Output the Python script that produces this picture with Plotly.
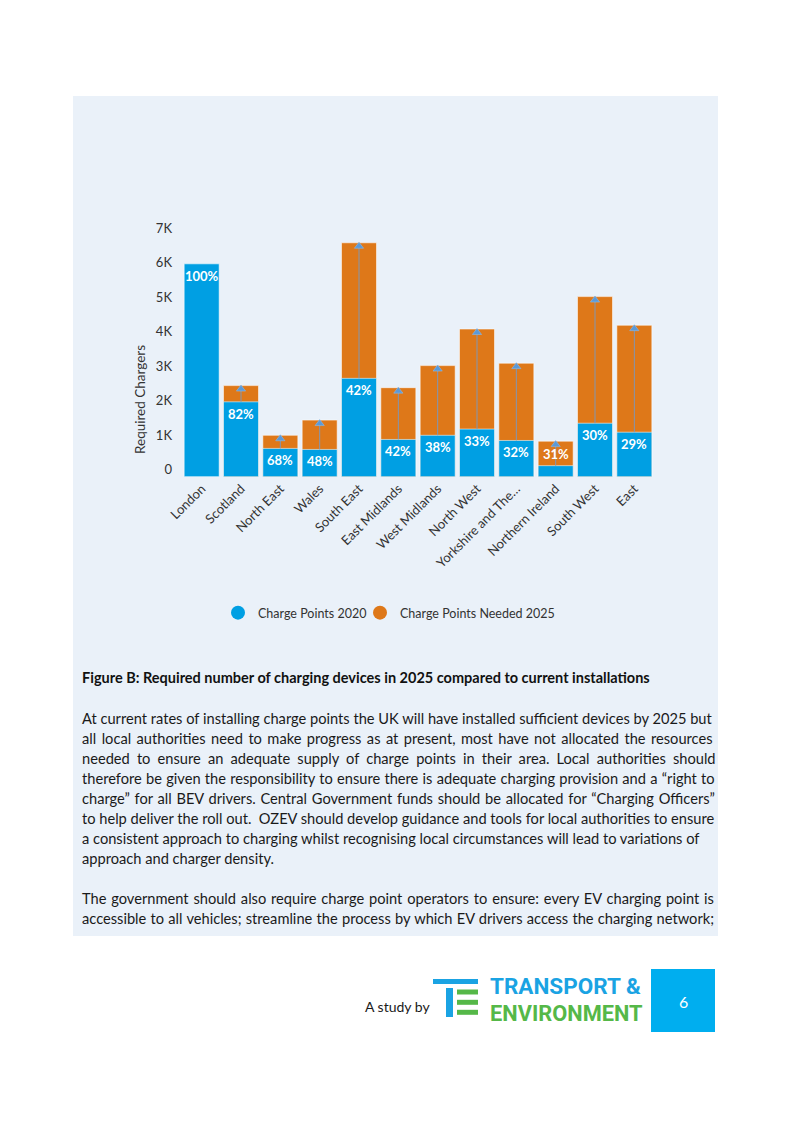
import plotly.graph_objects as go

# ---------------- data ----------------
regions = ["London", "Scotland", "North East", "Wales", "South East", "East Midlands",
           "West Midlands", "North West", "Yorkshire and The…", "Northern Ireland",
           "South West", "East"]
charge_points_2020 = [6170, 2170, 820, 790, 2850, 1080, 1200, 1380, 1050, 320, 1550, 1290]
charge_points_needed_2025 = [None, 2640, 1200, 1640, 6780, 2580, 3220, 4280, 3290, 1030, 5220, 4390]
pct_labels = ["100%", "82%", "68%", "48%", "42%", "42%", "38%", "33%", "32%", "31%", "30%", "29%"]
y_tick_vals = [0, 1000, 2000, 3000, 4000, 5000, 6000, 7000]
y_tick_text = ["0", "1K", "2K", "3K", "4K", "5K", "6K", "7K"]

W, H = 794, 1122
OFF = 8  # page body margin of the rendered html
BLUE = "#009fe3"
ORANGE = "#de7819"
PANEL = "#eaf1f9"
FONT = "Lato"


def px(x):
    return (x - OFF) / W


def py(y):
    return 1 - (y - OFF) / H


fig = go.Figure()

# orange: needed 2025 (behind)
fig.add_trace(go.Bar(
    x=regions, y=charge_points_needed_2025, name="Charge Points Needed 2025",
    marker=dict(color=ORANGE, line=dict(color="rgba(255,255,255,0.55)", width=1)),
    width=0.89, showlegend=False, hoverinfo="x+y"))
# blue: 2020 (front)
fig.add_trace(go.Bar(
    x=regions, y=charge_points_2020, name="Charge Points 2020",
    marker=dict(color=BLUE, line=dict(color="rgba(255,255,255,0.55)", width=1)),
    width=0.89, showlegend=False, hoverinfo="x+y"))

# arrows from current to needed
ax, ay, hx, hy = [], [], [], []
for r, c, n in zip(regions, charge_points_2020, charge_points_needed_2025):
    if n is None or n <= c:
        continue
    ax += [r, r, None]
    ay += [c, n, None]
    hx.append(r)
    hy.append(n - 100)
fig.add_trace(go.Scatter(x=ax, y=ay, mode="lines", line=dict(color="#8096b2", width=1),
                         showlegend=False, hoverinfo="skip"))
fig.add_trace(go.Scatter(x=hx, y=hy, mode="markers",
                         marker=dict(symbol="triangle-up", size=8, color="#5b9ad8",
                                     line=dict(color="#8cbbe8", width=0.6)),
                         showlegend=False, hoverinfo="skip"))

# legend entries (circles), each in its own legend box
fig.add_trace(go.Scatter(x=[None], y=[None], mode="markers", name="Charge Points 2020",
                         marker=dict(symbol="circle", size=14, color=BLUE), legend="legend"))
fig.add_trace(go.Scatter(x=[None], y=[None], mode="markers", name="Charge Points Needed 2025",
                         marker=dict(symbol="circle", size=14, color=ORANGE), legend="legend2"))

annotations = []
# percentage labels
for r, c, t in zip(regions, charge_points_2020, pct_labels):
    annotations.append(dict(x=r, y=c, xref="x", yref="y", text=t, showarrow=False,
                            xanchor="center", yanchor="middle",
                            yshift=-12 if c >= 600 else 12,
                            font=dict(family=FONT, size=13, color="white", weight="bold")))

# axis title
annotations.append(dict(x=px(140), y=py(400), xref="paper", yref="paper",
                        xanchor="center", yanchor="middle",
                        text="Required Chargers", textangle=-90, showarrow=False,
                        font=dict(family=FONT, size=13.5, color="#333333")))

# caption
annotations.append(dict(x=px(80), y=py(677), xref="paper", yref="paper", xanchor="left",
                        yanchor="middle", showarrow=False,
                        text="Figure B: Required number of charging devices in 2025 compared to current installations",
                        font=dict(family=FONT, size=14.5, color="#111111", weight="bold")))

para1 = [
    "At current rates of installing charge points the UK will have installed sufficient devices by 2025 but",
    "all local authorities need to make progress as at present, most have not allocated the resources",
    "needed to ensure an adequate supply of charge points in their area. Local authorities should",
    "therefore be given the responsibility to ensure there is adequate charging provision and a \u201cright to",
    "charge\u201d for all BEV drivers. Central Government funds should be allocated for \u201cCharging Officers\u201d",
    "to help deliver the roll out.  OZEV should develop guidance and tools for local authorities to ensure",
    "a consistent approach to charging whilst recognising local circumstances will lead to variations of",
    "approach and charger density.",
]
para2 = [
    "The government should also require charge point operators to ensure: every EV charging point is",
    "accessible to all vehicles; streamline the process by which EV drivers access the charging network;",
]
# extra word spacing (px) to imitate the justified text block
para1_spacing = [0, 1.7, 3.4, 0.5, 1.0, 0, 0, 0]
para2_spacing = [1.1, 0.5]


def justified(line, ws):
    if ws:
        return '<span style="word-spacing:%.2fpx">%s</span>' % (ws, line)
    return line


for i, (line, ws) in enumerate(zip(para1, para1_spacing)):
    annotations.append(dict(x=px(80), y=py(718 + 20 * i), xref="paper", yref="paper",
                            xanchor="left", yanchor="middle", showarrow=False,
                            text=justified(line, ws),
                            font=dict(family=FONT, size=14.65, color="#1a1a1a")))
for i, (line, ws) in enumerate(zip(para2, para2_spacing)):
    annotations.append(dict(x=px(80), y=py(898 + 20 * i), xref="paper", yref="paper",
                            xanchor="left", yanchor="middle", showarrow=False,
                            text=justified(line, ws),
                            font=dict(family=FONT, size=14.65, color="#1a1a1a")))

# footer
annotations.append(dict(x=px(432), y=py(1006), xref="paper", yref="paper", xanchor="right",
                        yanchor="middle", showarrow=False, text="A study by",
                        font=dict(family=FONT, size=14, color="#1a1a1a")))
annotations.append(dict(x=px(488), y=py(986), xref="paper", yref="paper", xanchor="left",
                        yanchor="middle", showarrow=False, text="TRANSPORT &",
                        font=dict(family="Liberation Sans Narrow, Roboto, sans-serif", size=22.5,
                                  color="#1aa3e3", weight="bold")))
annotations.append(dict(x=px(488), y=py(1013), xref="paper", yref="paper", xanchor="left",
                        yanchor="middle", showarrow=False, text="ENVIRONMENT",
                        font=dict(family="Liberation Sans Narrow, Roboto, sans-serif", size=21.8,
                                  color="#55b848", weight="bold")))
annotations.append(dict(x=px(683), y=py(1001), xref="paper", yref="paper", xanchor="center",
                        yanchor="middle", showarrow=False,
                        text="6", font=dict(family=FONT, size=16, color="white")))

shapes = [
    dict(type="rect", xref="paper", yref="paper", x0=px(73), x1=px(718), y0=py(936), y1=py(96),
         fillcolor=PANEL, line=dict(width=0), layer="below"),
    # logo icon
    dict(type="rect", xref="paper", yref="paper", x0=px(433), x1=px(478), y0=py(984), y1=py(979),
         fillcolor="#1aa3e3", line=dict(width=0)),
    dict(type="rect", xref="paper", yref="paper", x0=px(446), x1=px(453), y0=py(1017), y1=py(988),
         fillcolor="#1aa3e3", line=dict(width=0)),
    dict(type="rect", xref="paper", yref="paper", x0=px(457), x1=px(478), y0=py(994.5), y1=py(989.5),
         fillcolor="#55b848", line=dict(width=0)),
    dict(type="rect", xref="paper", yref="paper", x0=px(457), x1=px(478), y0=py(1004.8), y1=py(999.8),
         fillcolor="#55b848", line=dict(width=0)),
    dict(type="rect", xref="paper", yref="paper", x0=px(457), x1=px(478), y0=py(1014.8), y1=py(1009.8),
         fillcolor="#55b848", line=dict(width=0)),
    # page number box
    dict(type="rect", xref="paper", yref="paper", x0=px(651), x1=px(715), y0=py(1032), y1=py(969),
         fillcolor="#00aeef", line=dict(width=0), layer="below"),
]

legend_style = dict(orientation="h", xanchor="left", yanchor="middle", y=py(613),
                    font=dict(family=FONT, size=12.5, color="#333333"),
                    bgcolor="rgba(0,0,0,0)", itemwidth=30)

fig.update_layout(
    template="none",
    width=W, height=H, margin=dict(l=0, r=0, t=0, b=0, pad=0, autoexpand=False),
    paper_bgcolor="white", plot_bgcolor="rgba(0,0,0,0)",
    barmode="overlay",
    font=dict(family=FONT, color="#333333"),
    xaxis=dict(type="category", domain=[px(182), px(654)], range=[-0.5, 11.5],
               automargin=False, ticks="",
               tickangle=-45, showgrid=False, zeroline=False, showline=False,
               tickfont=dict(family=FONT, size=13, color="#333333"), ticklabelstandoff=1),
    yaxis=dict(domain=[py(476.7), py(235.2)], range=[0, 7000], tickvals=y_tick_vals,
               automargin=False, ticks="",
               ticktext=y_tick_text, showgrid=False, zeroline=False, showline=False,
               tickfont=dict(family=FONT, size=13, color="#333333"), ticklabelstandoff=9,
               ticklabelshift=-7),
    legend=dict(x=px(218), **legend_style),
    legend2=dict(x=px(360), **legend_style),
    annotations=annotations, shapes=shapes,
)

fig.write_html("out.html")
